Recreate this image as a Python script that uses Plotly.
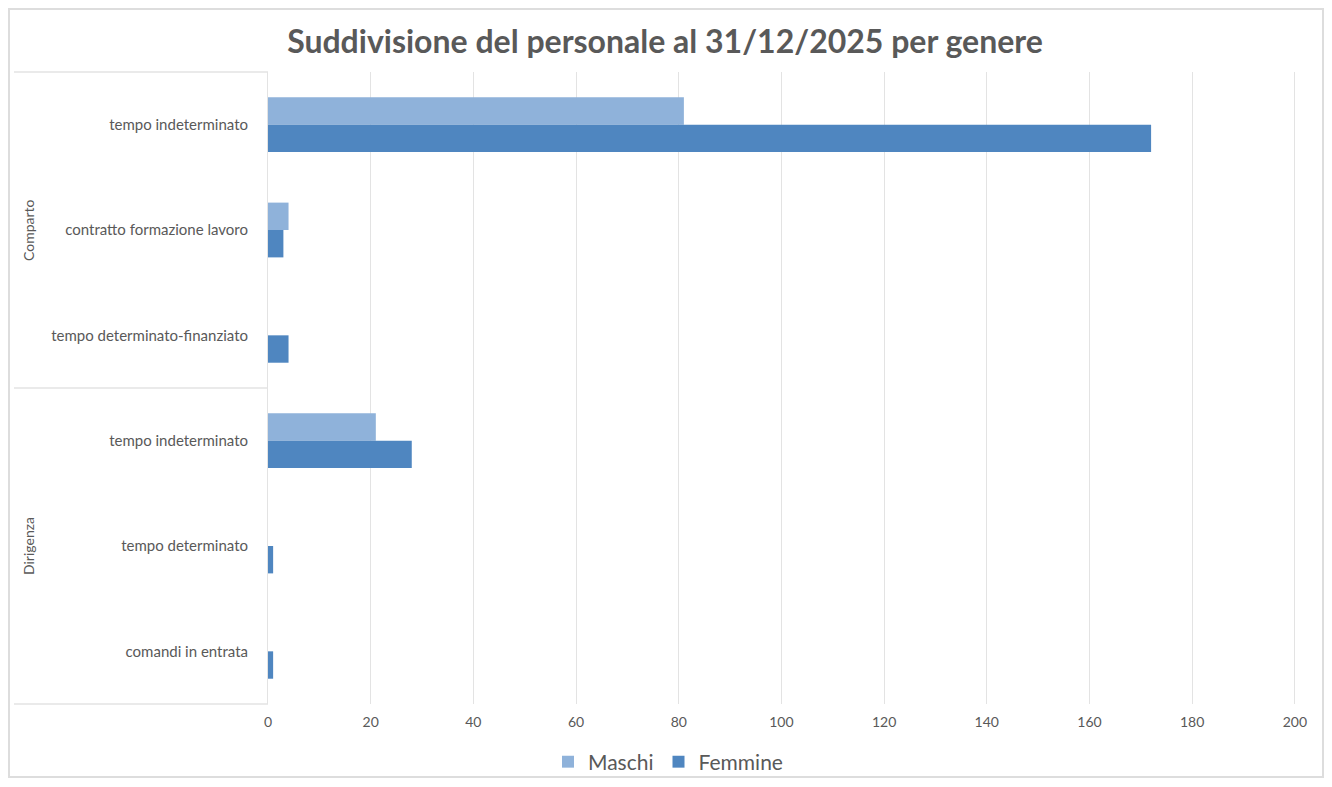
import plotly.graph_objects as go

groups = ["Comparto", "Comparto", "Comparto", "Dirigenza", "Dirigenza", "Dirigenza"]
categories = [
    "tempo indeterminato",
    "contratto formazione lavoro",
    "tempo determinato-finanziato",
    "tempo indeterminato",
    "tempo determinato",
    "comandi in entrata",
]
maschi = [81, 4, 0, 21, 0, 0]
femmine = [172, 3, 4, 28, 1, 1]
x_ticks = [0, 20, 40, 60, 80, 100, 120, 140, 160, 180, 200]

pos = list(range(len(categories)))
FONT = "Lato, 'Open Sans', sans-serif"
GRAY = "#595959"

FW, FH = 1316, 771
L, T, R, B = 260, 64, 24, 75
W = FW - L - R
H = FH - T - B

fig = go.Figure()
fig.add_trace(go.Bar(y=pos, x=maschi, orientation="h", name="Maschi",
                     marker=dict(color="#8FB2DA", line=dict(width=0))))
fig.add_trace(go.Bar(y=pos, x=femmine, orientation="h", name="Femmine",
                     marker=dict(color="#4F86C0", line=dict(width=0))))

fig.update_layout(
    width=FW, height=FH,
    margin=dict(l=L, r=R, t=T, b=B),
    paper_bgcolor="white", plot_bgcolor="white",
    barmode="group", bargap=0.48, bargroupgap=0,
    font=dict(family=FONT, color=GRAY),
    title=dict(text="<b>Suddivisione del personale al 31/12/2025 per genere</b>",
               x=657 / FW, xref="container", xanchor="center",
               y=1 - 34 / FH, yref="container", yanchor="middle",
               font=dict(size=32, color=GRAY, family=FONT)),
    legend=dict(orientation="h", x=660 / FW, xanchor="center", xref="container",
                y=1 - 754 / FH, yref="container", yanchor="middle",
                bgcolor="rgba(0,0,0,0)",
                font=dict(size=21, color=GRAY), traceorder="normal"),
    showlegend=True,
)
fig.update_xaxes(range=[0, 201], tickvals=x_ticks, showgrid=True, gridcolor="#E3E3E3",
                 gridwidth=1, zeroline=False, showline=False, ticks="",
                 tickfont=dict(size=14, color=GRAY), ticklabelstandoff=8)
fig.update_yaxes(tickvals=pos, ticktext=categories, autorange=False, range=[5.5, -0.5],
                 showgrid=False, zeroline=False, showline=True, linecolor="#E3E3E3",
                 ticks="", tickfont=dict(size=15, color=GRAY), ticklabelstandoff=16)

# group separators of the category area
for yv in [1.0, 0.5, 0.0]:
    fig.add_shape(type="line", xref="paper", yref="paper", x0=(6 - L) / W, x1=0,
                  y0=yv, y1=yv, line=dict(color="#E3E3E3", width=1.5))
# outer chart border
fig.add_shape(type="rect", xref="paper", yref="paper",
              x0=(1 - L) / W, x1=(FW - 1 - L) / W,
              y0=-(B - 2) / H, y1=(H + T - 1) / H,
              line=dict(color="#DDDDDD", width=2), fillcolor="rgba(0,0,0,0)", layer="below")

group_names = []
for g in groups:
    if g not in group_names:
        group_names.append(g)
for gi, g in enumerate(group_names):
    fig.add_annotation(text=g, xref="paper", yref="paper",
                       x=(20 - L) / W, y=1 - (gi + 0.5) / len(group_names),
                       textangle=-90, showarrow=False, xanchor="center", yanchor="middle",
                       font=dict(size=14, color=GRAY, family=FONT))

fig.write_html("out.html")
